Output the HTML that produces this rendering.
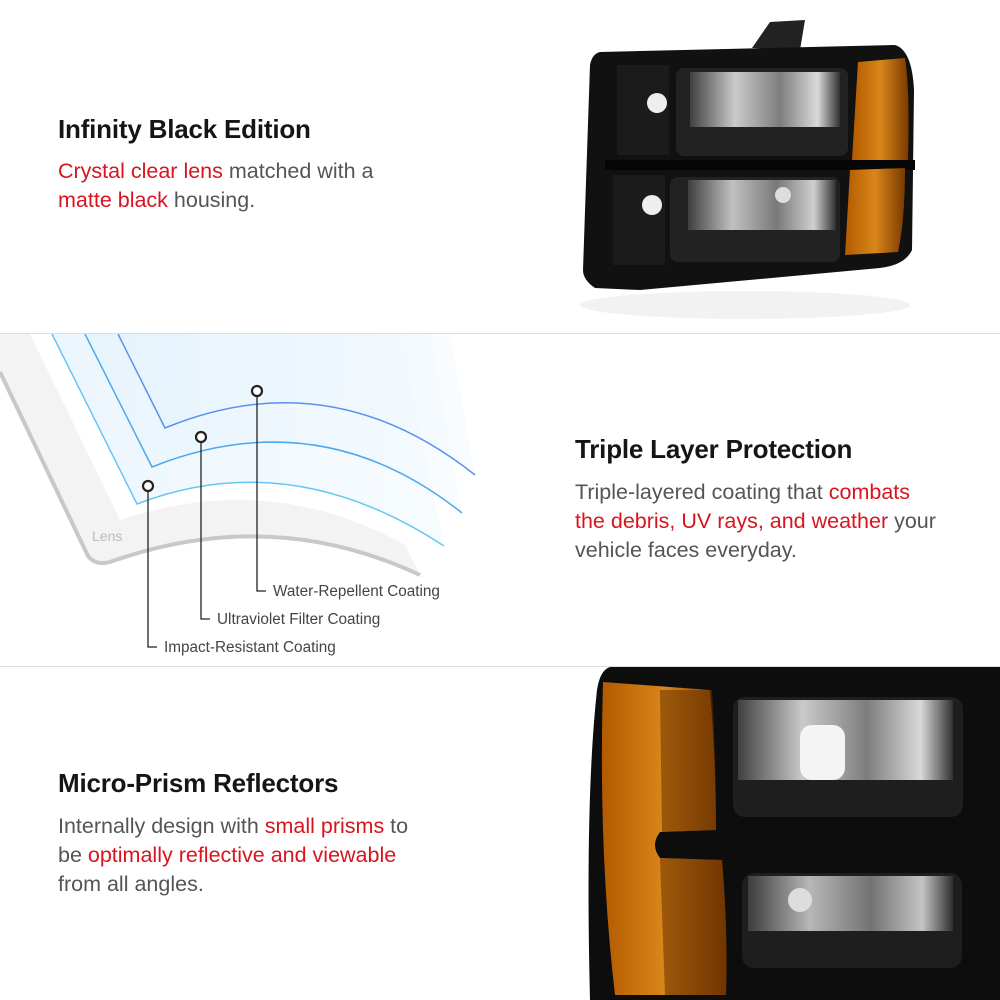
<!DOCTYPE html>
<html><head><meta charset="utf-8"><style>
html,body{margin:0;padding:0;background:#fff;}
body{width:1000px;height:1000px;position:relative;overflow:hidden;font-family:"Liberation Sans",sans-serif;}
.h{position:absolute;font-size:26px;color:#151515;font-weight:bold;letter-spacing:-0.2px;}
.p{position:absolute;font-size:21.5px;line-height:29px;color:#555;}
.r{color:#d8141e;}
.line{position:absolute;left:0;width:1000px;height:1px;background:#ddd;}
svg{position:absolute;left:0;top:0;}
</style></head><body>
<svg width="1000" height="1000" viewBox="0 0 1000 1000">
<defs>
<linearGradient id="amb" x1="0" y1="0" x2="1" y2="0"><stop offset="0" stop-color="#b25a00"/><stop offset="0.5" stop-color="#d9861a"/><stop offset="1" stop-color="#7a3a00"/></linearGradient>
<linearGradient id="refl" x1="0" y1="0" x2="1" y2="0"><stop offset="0" stop-color="#444"/><stop offset="0.3" stop-color="#ddd"/><stop offset="0.6" stop-color="#888"/><stop offset="0.85" stop-color="#eee"/><stop offset="1" stop-color="#333"/></linearGradient>
<linearGradient id="fade" x1="0" y1="0" x2="1" y2="0"><stop offset="0" stop-color="#e4f2fc"/><stop offset="1" stop-color="#f4fafe"/></linearGradient>
</defs>
<path d="M0,334 L0,372 L88,556 Q96,566 110,562 Q270,505 420,575 L405,545 Q270,470 120,520 L30,334 Z" fill="#f3f3f3"/>
<path d="M0,372 L88,556 Q96,566 110,562 Q270,505 420,575" fill="none" stroke="#c8c8c8" stroke-width="4"/>
<path d="M52,334 L137,504 Q290,445 444,546 L400,334 Z" fill="url(#fade)" opacity="0.7"/>
<path d="M85,334 L152,467 Q320,400 462,513 L430,334 Z" fill="url(#fade)" opacity="0.6"/>
<path d="M118,334 L165,428 Q330,360 475,475 L450,334 Z" fill="url(#fade)" opacity="0.6"/>
<path d="M52,334 L137,504 Q290,445 444,546" fill="none" stroke="#63c6f5" stroke-width="1.5"/>
<path d="M85,334 L152,467 Q320,400 462,513" fill="none" stroke="#4aa8ef" stroke-width="1.5"/>
<path d="M118,334 L165,428 Q330,360 475,475" fill="none" stroke="#5d8ff0" stroke-width="1.5"/>
<text x="92" y="541" font-family="Liberation Sans" font-size="14" fill="#bbb">Lens</text>
<g stroke="#222" stroke-width="1.3" fill="none">
<path d="M148,491 V647 H157"/><path d="M201,442 V619 H210"/><path d="M257,396 V591 H266"/>
</g>
<g stroke="#222" stroke-width="2.2" fill="#fff">
<circle cx="148" cy="486" r="5"/><circle cx="201" cy="437" r="5"/><circle cx="257" cy="391" r="5"/>
</g>
<g font-family="Liberation Sans" font-size="15.3" fill="#444">
<text x="273" y="596">Water-Repellent Coating</text>
<text x="217" y="624">Ultraviolet Filter Coating</text>
<text x="164" y="652">Impact-Resistant Coating</text>
</g>
<ellipse cx="745" cy="305" rx="165" ry="14" fill="#f2f2f2"/>
<path d="M752,48 L770,22 L805,20 L800,50 Z" fill="#222"/>
<path d="M600,52 L895,45 Q912,50 914,90 L912,250 Q905,265 880,268 L640,290 L595,288 Q583,280 583,270 L590,65 Q592,54 600,52 Z" fill="#111"/>
<rect x="617" y="65" width="52" height="90" fill="#1b1b1b"/>
<rect x="613" y="175" width="52" height="90" fill="#1b1b1b"/>
<rect x="676" y="68" width="172" height="88" rx="8" fill="#222"/>
<rect x="690" y="72" width="150" height="55" fill="url(#refl)" opacity="0.9"/>
<rect x="670" y="177" width="170" height="85" rx="8" fill="#222"/>
<rect x="688" y="180" width="148" height="50" fill="url(#refl)" opacity="0.85"/>
<rect x="605" y="160" width="310" height="10" fill="#050505"/>
<path d="M858,62 L905,58 Q910,90 908,160 L852,160 Z" fill="url(#amb)"/>
<path d="M850,170 L905,168 Q905,220 898,252 L845,255 Z" fill="url(#amb)"/>
<circle cx="657" cy="103" r="10" fill="#eee"/><circle cx="652" cy="205" r="10" fill="#eee"/>
<circle cx="783" cy="195" r="8" fill="#ddd"/>
<path d="M610,667 L1000,667 L1000,1000 L590,1000 Q585,800 597,690 Q600,670 610,667 Z" fill="#0d0d0d"/>
<path d="M603,682 L710,690 Q716,760 716,830 L660,832 Q650,845 660,858 L722,860 Q728,930 726,995 L615,995 Q598,850 603,682 Z" fill="url(#amb)"/>
<path d="M660,690 L712,690 Q716,760 716,830 L662,832 Z" fill="#6a3200" opacity="0.55"/>
<path d="M660,858 L722,860 Q728,930 726,995 L665,995 Z" fill="#6a3200" opacity="0.55"/>
<rect x="733" y="697" width="230" height="120" rx="12" fill="#1e1e1e"/>
<rect x="738" y="700" width="215" height="80" fill="url(#refl)" opacity="0.9"/>
<rect x="742" y="873" width="220" height="95" rx="12" fill="#1e1e1e"/>
<rect x="748" y="876" width="205" height="55" fill="url(#refl)" opacity="0.8"/>
<rect x="800" y="725" width="45" height="55" rx="12" fill="#f4f4f4"/>
<circle cx="800" cy="900" r="12" fill="#ddd"/>
</svg>
<div class="line" style="top:333px"></div>
<div class="line" style="top:666px"></div>
<div class="h" style="left:58px;top:114px">Infinity Black Edition</div>
<div class="p" style="left:58px;top:157px">
<span class="r">Crystal clear lens</span> matched with a<br><span class="r">matte black</span> housing.</div>
<div class="h" style="left:575px;top:434px">Triple Layer Protection</div>
<div class="p" style="left:575px;top:478px">Triple-layered coating that <span class="r">combats</span><br><span class="r">the debris, UV rays, and weather</span> your<br>vehicle faces everyday.</div>
<div class="h" style="left:58px;top:768px">Micro-Prism Reflectors</div>
<div class="p" style="left:58px;top:812px">Internally design with <span class="r">small prisms</span> to<br>be <span class="r">optimally reflective and viewable</span><br>from all angles.</div>
</body></html>
